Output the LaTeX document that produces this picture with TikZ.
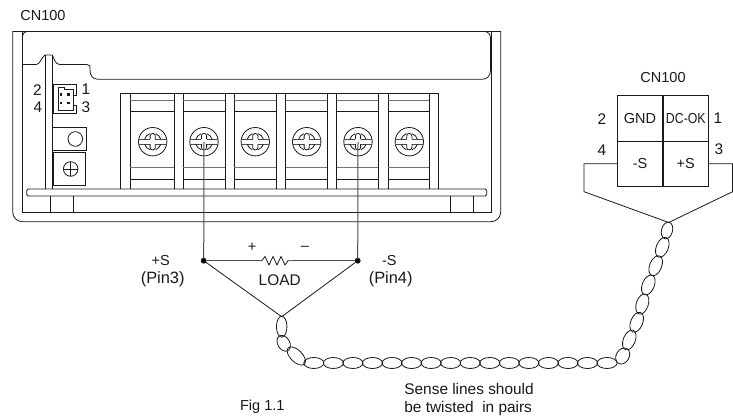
\documentclass[tikz,border=0pt]{standalone}
\usepackage{fontspec}
\setmainfont{Liberation Sans}
\usetikzlibrary{shapes.geometric}
\tikzset{
	lbl/.style={font=\fontsize{14.5}{14.5}\selectfont, inner sep=0pt},
	widelbl/.style={font=\fontsize{15.4}{15.4}\selectfont, inner sep=0pt},
	cell/.style={lbl, draw, minimum width=45.4pt, minimum height=45.3pt},
	twist/.style={draw, ellipse, inner sep=0pt, line width=0.8pt},
	wiredot/.style={draw, circle, fill=black, inner sep=0pt, minimum size=5pt},
}
\begin{document}
\begin{tikzpicture}[x=1pt,y=-1pt,line width=0.8pt,black!90]
	\useasboundingbox (0,0) rectangle (733,419);
	%% Housing
	\draw (12.7,31.5) -- (500.7,31.5) -- (500.7,212) arc (0:90:9.7) -- (22.4,221.7) arc (90:180:9.7) -- cycle;
	\draw (22.4,31.5) -- (22.4,212.3) -- (491,212.3) -- (491,31.5);
	\draw (22.4,64.6) -- (36,64.6) .. controls (40,64.6) and (41,58) .. (45,55) -- (52.3,55)
		.. controls (54,58) and (55,64.6) .. (60,64.6) -- (87,64.6)
		.. controls (90,64.6) and (90,66) .. (90,70) .. controls (90,76) and (93,79.3) .. (98,79.3)
		-- (482,79.3) .. controls (487,79.3) and (490.5,76) .. (490.5,70) -- (490.5,38)
		.. controls (490.5,34) and (488,31.5) .. (484,31.5);
	\draw (22.4,38) .. controls (22.4,34) and (24,31.5) .. (28,31.5);
	\draw (45,55) -- (45,188.6) (52.3,55) -- (52.3,188.6);
	%% Base plate and feet
	\draw[rounded corners=1.5pt] (26.7,189) rectangle (486.7,196);
	\foreach \i in {50, 73.3, 450, 473.3} {
		\draw (\i,196) -- (\i,212.3);
	}
	%% Terminal block
	\draw (120.7,189) -- (120.7,93.3) -- (438.3,93.3) -- (438.3,189);
	\foreach \i in {130, 174, 183.3, 225.3, 234.3, 276.3, 285.7, 327.3, 336.7, 378.3, 388.3, 429.3} {
		\draw (\i,93.3) -- (\i,189);
	}
	\foreach \a/\b in {130/174, 183.3/225.3, 234.3/276.3, 285.7/327.3, 336.7/378.3, 388.3/429.3} {
		\draw[black!55] (\a,100.5) -- (\b,100.5) (\a,167.3) -- (\b,167.3);
		\draw (\a,111.2) -- (\b,111.2) (\a,179.2) -- (\b,179.2);
	}
	\foreach \i in {152.7, 204, 255.3, 306.7, 358, 409.3} {
		\draw (\i,141.7) circle (14.2);
		\draw[black!70] (\i-13.9,139.2) -- (\i-2.6,139.2) (\i+2.6,139.2) -- (\i+13.9,139.2);
		\draw[black!70] (\i-13.9,144.2) -- (\i-2.6,144.2) (\i+2.6,144.2) -- (\i+13.9,144.2);
		\draw (\i-2.6,139.2) -- (\i-2.6,136) arc (180:360:2.6) -- (\i+2.6,139.2);
		\draw (\i-2.6,144.2) -- (\i-2.6,147.4) arc (180:0:2.6) -- (\i+2.6,144.2);
		\draw (\i-8.1,139.2) arc (197:250:8.5) (\i+8.1,139.2) arc (343:290:8.5);
		\draw (\i-8.1,144.2) arc (163:110:8.5) (\i+8.1,144.2) arc (17:70:8.5);
	}
	%% Small connector and buttons
	\draw (76.7,84.3) -- (53.3,84.3) -- (53.3,113.3) -- (76.7,113.3) -- (76.7,105) -- (73.5,105) -- (73.5,95) -- (76.7,95) -- cycle;
	\draw (73.5,95) -- (73.5,89) -- (64,89) -- (64,87) -- (58,87) -- (58,110) -- (73.5,110) -- (73.5,105);
	\foreach \i in {61, 68.3} {
		\fill (\i-1.4,92.9) rectangle (\i+1.4,95.7);
		\fill (\i-1.4,101.6) rectangle (\i+1.4,104.4);
	}
	\draw (52.3,127.3) rectangle (86.7,150);
	\draw (75.3,139) circle (7.3);
	\draw (53,152.7) rectangle (85.7,185.7);
	\draw (70.7,169) circle (7.3);
	\draw (63.4,169) -- (78,169) (70.7,161.7) -- (70.7,176.3);
	\node[lbl] (cnlabel) at (43,16) {CN100};
	\node[widelbl] (pintwo) at (37.5,90) {2};
	\node[widelbl] (pinfour) at (38,107) {4};
	\node[widelbl] (pinone) at (86,89) {1};
	\node[widelbl] (pinthree) at (86,107) {3};
	%% Load
	\node[wiredot] (plusdot) at (203.7,260.7) {};
	\node[wiredot] (minusdot) at (357.7,260.7) {};
	\coordinate (plusscrew) at (204,142);
	\coordinate (minusscrew) at (358,142);
	\coordinate (loadin) at (261.7,260.7);
	\coordinate (loadout) at (291.7,260.7);
	\coordinate (leftjoin) at (281.7,316.7);
	\draw[black!70,line width=1pt] (plusscrew) -- (plusdot);
	\draw[black!70,line width=1pt] (minusscrew) -- (minusdot);
	\draw[black!70,line width=1pt] (plusdot) -- (loadin);
	\draw[black!70,line width=1pt] (loadout) -- (minusdot);
	\draw (loadin) -- (265,256.5) -- (269,265) -- (273,256.5) -- (277,265) -- (281,256.5) -- (285,265) -- (288,260.7) -- (loadout);
	\draw (plusdot) -- (leftjoin) -- (minusdot);
	\node[lbl] (loadplus) at (252,247) {+};
	\node[lbl] (loadminus) at (305,248) {--};
	\node[widelbl] (loadlabel) at (279.7,280) {LOAD};
	\node[lbl] (plusname) at (160.7,261) {+S};
	\node[widelbl,font=\fontsize{16.4}{16.4}\selectfont] (pinthreename) at (162.7,279) {(Pin3)};
	\node[lbl] (minusname) at (389.3,261) {-S};
	\node[widelbl,font=\fontsize{16.4}{16.4}\selectfont] (pinfourname) at (390.7,279) {(Pin4)};
	%% Twisted pair
	\foreach \i/\x/\y/\w/\h/\r in {
		1/281.7/326.7/21/10.5/90, 2/283.7/343.3/17/12/-60, 3/296.3/356/23/12/-45,
		4/622.7/356/17/13/60, 5/629.3/340/21/12/68, 6/636.7/322.3/21/12/68,
		7/642.3/304/21/12/72, 8/648.3/285/21/12/68, 9/655.7/265.7/21/12/68,
		10/662.3/247.3/21/12/68, 11/667/230.5/17/11/75} {
		\node[twist, minimum width=\w pt, minimum height=\h pt, rotate=\r] (tw\i) at (\x,\y) {};
	}
	\foreach \i in {0, ..., 15} {
		\node[twist, minimum width=20pt, minimum height=11pt] (tb\i) at (313.8+19.55*\i,363) {};
	}
	%% Remote connector
	\node[cell] (gnd) at (640,118.4) {GND};
	\node[cell, right=0pt] (dcok) at (662.7,118.4) {\scalebox{.85}[1]{DC-OK}};
	\node[cell] (minuss) at (640,163.7) {-S};
	\node[cell, right=0pt] (pluss) at (662.7,163.7) {+S};
	\node[lbl] (cnright) at (663,78) {CN100};
	\node[widelbl] (rtwo) at (602,119) {2};
	\node[widelbl] (rfour) at (602,150) {4};
	\node[widelbl] (rone) at (718,118) {1};
	\node[widelbl] (rthree) at (719,149) {3};
	\coordinate (rightjoin) at (668.7,222.5);
	\coordinate (leftturn) at (584,163.7);
	\coordinate (leftdown) at (584,191.7);
	\coordinate (rightturn) at (732.6,163.7);
	\coordinate (rightdown) at (732.6,191.7);
	\draw (minuss.west) -- (leftturn) -- (leftdown) -- (rightjoin);
	\draw (pluss.east) -- (rightturn) -- (rightdown) -- (rightjoin);
	%% Captions
	\node[lbl] (figlabel) at (262.3,407) {Fig 1.1};
	\node[widelbl, anchor=west] (senseone) at (404,389) {Sense lines should};
	\node[widelbl, anchor=west] (sensetwo) at (404,409) {be twisted\ \ in pairs};
\end{tikzpicture}
\end{document}
